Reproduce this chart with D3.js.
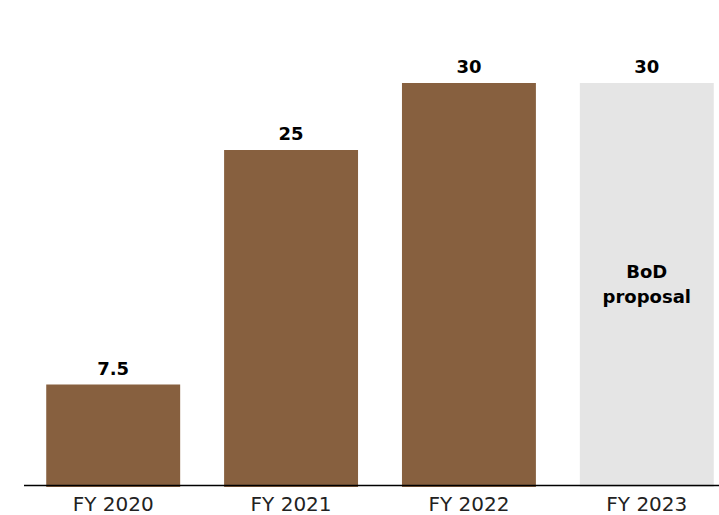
<!DOCTYPE html>
<html>
<head>
<meta charset="utf-8">
<script src="https://cdn.jsdelivr.net/npm/d3@7"></script>
<style>
  html, body { margin: 0; padding: 0; background: #fff; }
  svg { display: block; font-family: "DejaVu Sans", sans-serif; }
</style>
</head>
<body>
<svg id="chart" width="719" height="515"></svg>
<script>
// Dividend per share by fiscal year
const categories = ["FY 2020", "FY 2021", "FY 2022", "FY 2023"];
const values = [7.5, 25, 30, 30];
const valueLabels = ["7.5", "25", "30", "30"];
const proposed = [false, false, false, true];
const noteLines = ["BoD", "proposal"];

const svg = d3.select("#chart");
const baseY = 485;

const x = d3.scaleBand()
  .domain(categories)
  .range([24, 736])
  .paddingInner(0.247)
  .paddingOuter(0.125);

const y = d3.scaleLinear()
  .domain([0, 30])
  .range([baseY, 83]);

// Bars
svg.append("g")
  .selectAll("rect")
  .data(categories)
  .join("rect")
  .attr("x", d => x(d))
  .attr("width", x.bandwidth())
  .attr("y", (d, i) => y(values[i]))
  .attr("height", (d, i) => y(0) - y(values[i]) + 2)
  .attr("fill", (d, i) => proposed[i] ? "#e5e5e5" : "#87603f");

// Value labels above bars
svg.append("g")
  .selectAll("text")
  .data(categories)
  .join("text")
  .attr("x", d => x(d) + x.bandwidth() / 2)
  .attr("y", (d, i) => y(values[i]) - 10)
  .attr("text-anchor", "middle")
  .attr("font-size", 18)
  .attr("font-weight", "bold")
  .attr("fill", "#000")
  .text((d, i) => valueLabels[i]);

// Note inside the proposed bar
const pi = proposed.indexOf(true);
svg.append("text")
  .attr("x", x(categories[pi]) + x.bandwidth() / 2)
  .attr("y", 278)
  .attr("text-anchor", "middle")
  .attr("font-size", 18)
  .attr("font-weight", "bold")
  .attr("fill", "#000")
  .selectAll("tspan")
  .data(noteLines)
  .join("tspan")
  .attr("x", x(categories[pi]) + x.bandwidth() / 2)
  .attr("dy", (d, i) => i === 0 ? 0 : 25)
  .text(d => d);

// Category axis
const axis = svg.append("g")
  .attr("transform", `translate(0,${baseY})`)
  .call(d3.axisBottom(x).tickSize(0).tickPadding(12));
axis.select(".domain")
  .attr("d", "M24,0.5H719")
  .attr("stroke", "#000")
  .attr("stroke-width", 1.5);
axis.selectAll(".tick text")
  .attr("font-size", 20)
  .attr("font-family", "'DejaVu Sans', sans-serif")
  .attr("fill", "#222");
</script>
</body>
</html>
